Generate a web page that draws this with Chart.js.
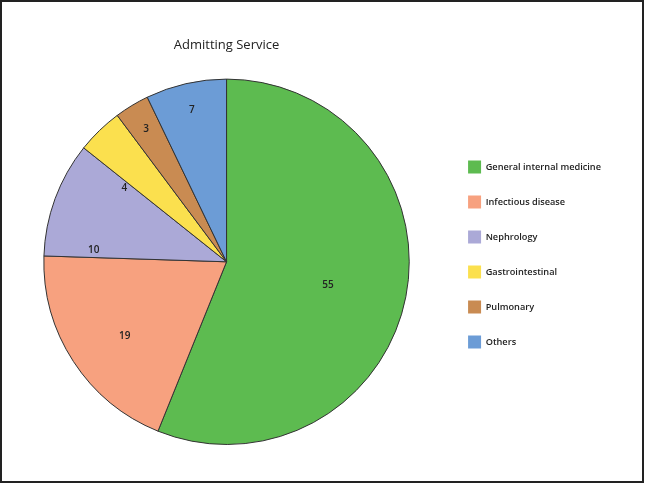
<!DOCTYPE html>
<html>
<head>
<meta charset="utf-8">
<script src="https://cdn.jsdelivr.net/npm/chart.js@4"></script>
<style>
  html, body { margin: 0; padding: 0; background: #fff; }
</style>
</head>
<body>
<canvas id="myChart" width="645" height="485"></canvas>
<script>
// data
var services = ["General internal medicine", "Infectious disease", "Nephrology", "Gastrointestinal", "Pulmonary", "Others"];
var counts = [55, 19, 10, 4, 3, 7];
var sliceColors = ["#5dbb50", "#f7a17f", "#aba9d7", "#fbe04e", "#c98b52", "#6c9cd6"];

// where the numbers sit inside each slice (fraction of radius, nudge in degrees)
var labelRadius = [0.57, 0.69, 0.73, 0.69, 0.85, 0.85];
var labelNudge = [2, -3, -15, -10, 0, 0];

var frame = {
  id: 'frame',
  beforeDraw: function (chart) {
    var c = chart.ctx;
    c.save();
    c.fillStyle = '#fff';
    c.fillRect(0, 0, chart.width, chart.height);
    c.restore();
  },
  afterDraw: function (chart) {
    var c = chart.ctx;
    c.save();
    c.strokeStyle = '#222';
    c.lineWidth = 2;
    c.strokeRect(1, 1, chart.width - 3, chart.height - 4);
    c.restore();
  }
};

var sliceLabels = {
  id: 'sliceLabels',
  afterDatasetsDraw: function (chart) {
    var c = chart.ctx;
    var meta = chart.getDatasetMeta(0);
    c.save();
    c.font = '600 10px "Open Sans"';
    c.fillStyle = '#222';
    c.textAlign = 'center';
    c.textBaseline = 'middle';
    meta.data.forEach(function (arc, i) {
      var p = arc.getProps(['x', 'y', 'startAngle', 'endAngle', 'outerRadius'], true);
      var mid = (p.startAngle + p.endAngle) / 2 + labelNudge[i] * Math.PI / 180;
      var r = p.outerRadius * labelRadius[i];
      c.fillText(counts[i], p.x + Math.cos(mid) * r, p.y + Math.sin(mid) * r);
    });
    c.restore();
  }
};

var ctx = document.getElementById("myChart").getContext('2d');

var myPieChart = new Chart(ctx, {
  type: 'pie',
  data: {
    labels: services,
    datasets: [{
      data: counts,
      backgroundColor: sliceColors,
      borderColor: '#333',
      borderWidth: 1
    }]
  },
  plugins: [frame, sliceLabels],
  options: {
    responsive: false,
    animation: false,
    layout: { padding: { left: 7, right: 34, top: 0, bottom: 40 } },
    plugins: {
      tooltip: { enabled: false },
      title: {
        display: true,
        text: 'Admitting Service',
        fullSize: false,
        color: '#222',
        font: { family: 'Open Sans', size: 13, weight: 'normal' },
        padding: { top: 37, bottom: 26 }
      },
      legend: {
        position: 'right',
        align: 'center',
        // empty title only pushes the legend items down
        title: { display: true, text: ' ', font: { size: 12 }, padding: { top: 0, bottom: 49.6 } },
        labels: {
          boxWidth: 13,
          boxHeight: 13,
          padding: 22,
          color: '#222',
          font: { family: 'Open Sans', size: 9.2, weight: 600 },
          generateLabels: function (chart) {
            var items = Chart.controllers.pie.overrides.plugins.legend.labels.generateLabels(chart);
            items.forEach(function (it) { it.lineWidth = 0; it.strokeStyle = 'rgba(0,0,0,0)'; });
            return items;
          }
        }
      }
    }
  }
});
</script>
</body>
</html>
